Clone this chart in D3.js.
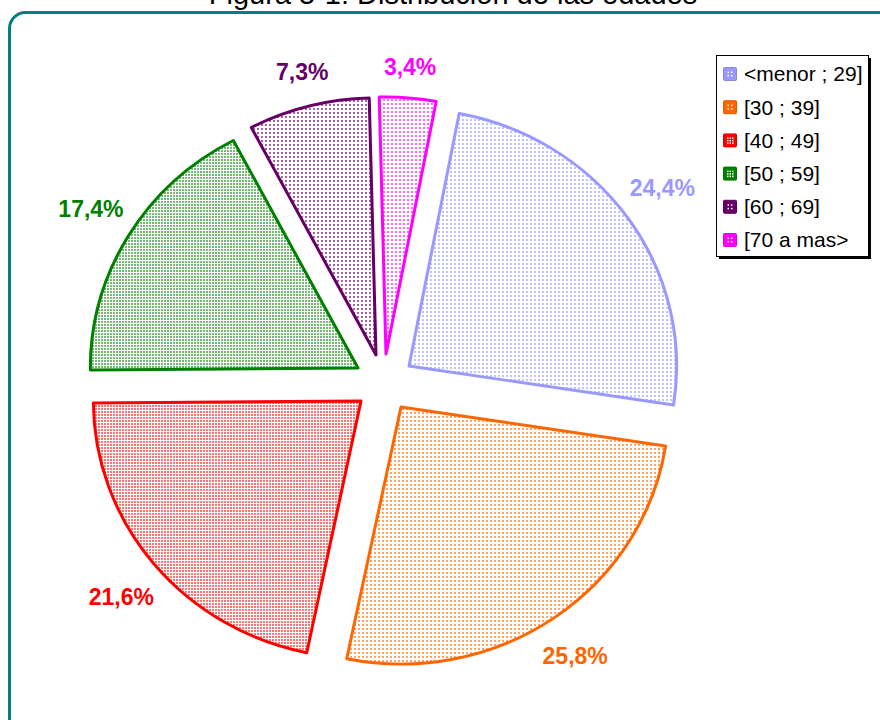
<!DOCTYPE html>
<html>
<head>
<meta charset="utf-8">
<script src="https://cdn.jsdelivr.net/npm/d3@7"></script>
<style>
  body { margin: 0; background: #fff; }
  svg { display: block; font-family: Arial, "Liberation Sans", sans-serif; }
</style>
</head>
<body>
<script>

// data
var categories = ["<menor ; 29]", "[30 ; 39]", "[40 ; 49]", "[50 ; 59]", "[60 ; 69]", "[70 a mas>"];
var percents = [24.4, 25.8, 21.6, 17.4, 7.3, 3.4];
var labels = ["24,4%", "25,8%", "21,6%", "17,4%", "7,3%", "3,4%"];
var title = "Figura 5-1: Distribución de las edades";

// styles
var colors = ["#9999ff", "#ff6600", "#ff0000", "#008000", "#660066", "#ff00ff"];
var dense = [false, false, true, true, false, false];

var width = 880, height = 720;
var cx = 384, cy = 383, radius = 265, explode = 30;
var sx = 1.01, sy = 0.97;   // the pie is drawn slightly flattened
var firstAngle = 10.8 * Math.PI / 180;

var svg = d3.select("body").append("svg")
    .attr("width", width)
    .attr("height", height);

// dotted fills (undo the pie scale so the dots sit on the screen pixel grid)
var defs = svg.append("defs");
colors.forEach(function(c, i) {
    var t = dense[i] ? 3 : 4;
    var p = defs.append("pattern")
        .attr("id", "pat" + i)
        .attr("patternUnits", "userSpaceOnUse")
        .attr("patternTransform", "scale(" + (1 / sx) + "," + (1 / sy) + ")")
        .attr("width", t)
        .attr("height", t);
    p.append("rect").attr("width", t).attr("height", t).attr("fill", "#fff");
    p.append("rect")
        .attr("x", 1).attr("y", 1)
        .attr("width", 2).attr("height", 2)
        .attr("fill", c)
        .attr("fill-opacity", dense[i] ? 0.55 : 0.6);
});

// frame
svg.append("rect")
    .attr("x", 9.5)
    .attr("y", 12.5)
    .attr("width", 900)
    .attr("height", 725)
    .attr("rx", 16)
    .attr("fill", "none")
    .attr("stroke", "#008080")
    .attr("stroke-width", 3);

// title (cut by the top edge, as in the source)
svg.append("text")
    .attr("x", 453)
    .attr("y", 4)
    .attr("text-anchor", "middle")
    .attr("font-size", 29)
    .attr("fill", "#000")
    .text(title);

// pie
var pie = d3.pie()
    .sort(null)
    .startAngle(firstAngle)
    .endAngle(firstAngle + 2 * Math.PI)
    .value(function(d) { return d; });

var arc = d3.arc()
    .innerRadius(0)
    .outerRadius(radius);

var arcs = pie(percents);

function mid(d) { return (d.startAngle + d.endAngle) / 2; }

// each slice is pulled out along its middle angle, on whole pixels
var slice = svg.selectAll(".slice")
    .data(arcs)
    .enter().append("g")
    .attr("class", "slice")
    .attr("transform", function(d) {
        var m = mid(d);
        var tx = Math.round(cx + sx * explode * Math.sin(m)),
            ty = Math.round(cy - sy * explode * Math.cos(m));
        return "translate(" + tx + "," + ty + ") scale(" + sx + "," + sy + ")";
    });

slice.append("path")
    .attr("d", arc)
    .attr("fill", function(d, i) { return "url(#pat" + i + ")"; })
    .attr("stroke", function(d, i) { return colors[i]; })
    .attr("stroke-width", 3)
    .attr("stroke-linejoin", "round");

// labels, placed just outside the slice edge
var lg = svg.append("g")
    .attr("transform", "translate(" + cx + "," + cy + ")");

var lab = lg.selectAll(".lab")
    .data(arcs)
    .enter().append("text")
    .attr("class", "lab")
    .attr("text-anchor", "middle")
    .attr("dy", "0.35em")
    .attr("font-size", 23)
    .attr("font-weight", "bold")
    .attr("fill", function(d, i) { return colors[i]; })
    .text(function(d, i) { return labels[i]; });

lab.each(function(d) {
    var m = mid(d);
    var w = this.getComputedTextLength();
    var r = 305 + Math.abs(Math.sin(m)) * w / 2 + Math.abs(Math.cos(m)) * 10;
    d3.select(this)
        .attr("x", r * sx * Math.sin(m))
        .attr("y", -r * Math.cos(m));
});

// legend
var lx = 716, ly = 55, lw = 152, lh = 201;
var legend = svg.append("g");
legend.append("rect")
    .attr("x", lx + 3).attr("y", ly + 3)
    .attr("width", lw).attr("height", lh)
    .attr("fill", "#000");
legend.append("rect")
    .attr("x", lx + 0.5).attr("y", ly + 0.5)
    .attr("width", lw).attr("height", lh)
    .attr("fill", "#fff")
    .attr("stroke", "#000")
    .attr("stroke-width", 1);

var item = legend.selectAll(".item")
    .data(categories)
    .enter().append("g")
    .attr("class", "item")
    .attr("transform", function(d, i) { return "translate(" + (lx + 7) + "," + (ly + 19 + i * 33.2) + ")"; });

item.append("rect")
    .attr("x", 0.5).attr("y", -6.5)
    .attr("width", 13).attr("height", 13)
    .attr("rx", 1)
    .attr("fill", function(d, i) { return colors[i]; })
    .attr("stroke", function(d, i) { return d3.color(colors[i]).darker(0.3); })
    .attr("stroke-width", 1);

item.each(function(d, i) {
    var it = d3.select(this);
    var pts = dense[i]
        ? [[4, -3], [6.5, -3], [9, -3], [4, -0.5], [6.5, -0.5], [9, -0.5], [4, 2], [6.5, 2], [9, 2]]
        : [[4.5, -2.5], [8, -2.5], [4.5, 1], [8, 1]];
    pts.forEach(function(p) {
        it.append("rect")
            .attr("x", p[0]).attr("y", p[1])
            .attr("width", 1.5).attr("height", 1.5)
            .attr("fill", "#fff");
    });
});

item.append("text")
    .attr("x", 21)
    .attr("dy", "0.35em")
    .attr("font-size", 21)
    .attr("fill", "#000")
    .text(function(d) { return d; });

</script>
</body>
</html>
